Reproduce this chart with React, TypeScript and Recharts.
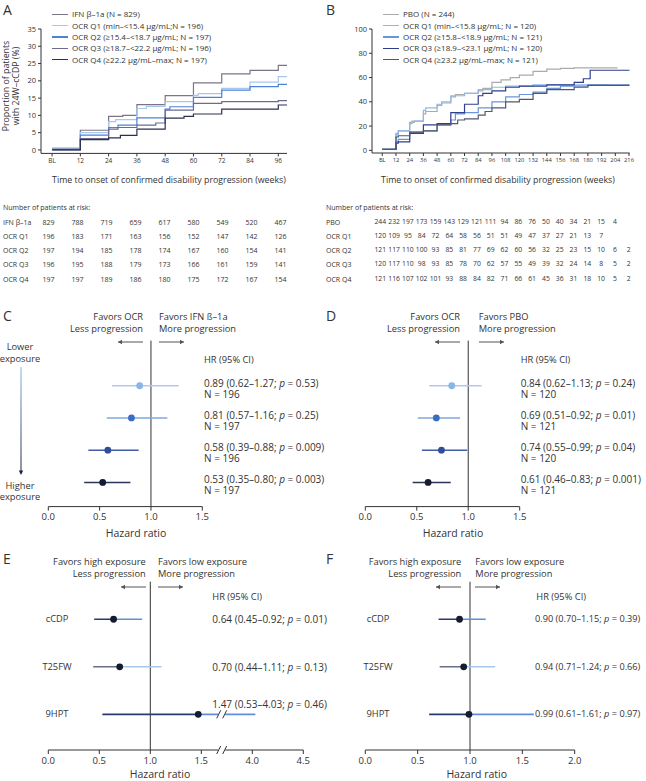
import React from 'react';
import { LineChart, Line, XAxis, YAxis, ComposedChart, Scatter, ReferenceLine, ReferenceDot } from 'recharts';

const FONT = '"Open Sans", sans-serif';
const INK = '#333';

// ---------- Panel A: 24W-cCDP by OCR exposure quartile vs IFN (weeks, %)
const aWeeks = [0, 12, 24, 36, 48, 60, 72, 84, 96];
const aIFN = [[0, 0.3], [12, 5.7], [24, 9.7], [30, 10], [36, 13.1], [48, 15.7], [60, 19.4], [72, 22.0], [84, 23.0], [96, 24.5], [99.7, 24.5]];
const aQ1 = [[0, 0.6], [12, 5.0], [24, 8.2], [27, 8.8], [36, 12.0], [40, 12.6], [48, 14.0], [60, 15.8], [62, 16.3], [72, 17.8], [84, 19.6], [96, 21.2], [99.7, 21.2]];
const aQ2 = [[0, 0.2], [12, 4.3], [24, 6.5], [28, 7.2], [36, 9.3], [48, 11.8], [50, 12.5], [60, 15.2], [72, 17.3], [84, 18.3], [96, 19.0], [99.7, 19.0]];
const aQ3 = [[0, 0], [12, 3.3], [24, 6.0], [28, 6.5], [36, 7.2], [44, 7.8], [48, 11.5], [60, 13.5], [72, 14.0], [96, 14.3], [99.7, 14.3]];
const aQ4 = [[0, 0], [12, 3.0], [24, 3.5], [29, 4.2], [36, 6.0], [48, 9.2], [56, 9.7], [60, 10.4], [72, 11.8], [96, 13.0], [99.7, 13.0]];
const aNames = ['IFN β–1a (N = 829)', 'OCR Q1 (min–<15.4 μg/mL;N = 196)', 'OCR Q2 (≥15.4–<18.7 μg/mL; N = 197)', 'OCR Q3 (≥18.7–<22.2 μg/mL; N = 196)', 'OCR Q4 (≥22.2 μg/mL–max; N = 197)'];
const aColors = ['#7d7387', '#a7c8ee', '#4d82d6', '#6e6a92', '#2a3150'];

// ---------- Panel B: placebo comparison
const bWeeks = [0, 12, 24, 36, 48, 60, 72, 84, 96, 108, 120, 132, 144, 156, 168, 180, 192, 204, 216];
const bPBO = [[0, 0.8], [12, 14], [14, 16], [24, 23], [28, 24], [36, 30], [38, 32], [48, 37], [52, 39], [60, 44], [64, 46], [72, 47], [84, 49], [88, 51], [96, 56], [104, 58], [112, 60], [120, 62], [132, 65], [144, 67], [156, 67.5], [168, 68], [206, 68]];
const bQ1 = [[0, 0.8], [12, 13], [14, 16], [24, 22], [26, 24], [36, 33], [38, 35], [48, 38], [52, 40], [60, 45], [72, 47], [84, 50], [96, 52], [108, 53], [132, 54], [198, 54.5]];
const bQ2 = [[0, 0.8], [12, 7], [14, 9], [24, 15], [36, 16], [48, 21], [60, 25], [64, 30], [72, 31], [84, 35], [96, 40], [108, 44], [120, 46], [132, 48], [144, 51], [156, 53], [180, 54], [216.6, 54]];
const bQ3 = [[0, 0.8], [12, 6], [14, 7], [24, 14], [36, 21], [48, 22], [60, 31], [72, 38], [84, 45], [88, 47], [96, 49], [108, 52], [120, 53], [144, 54], [168, 56], [176, 59], [182, 66], [216.6, 66]];
const bQ4 = [[0, 0.8], [12, 11], [14, 12], [24, 15], [36, 16], [48, 21], [60, 22], [66, 25], [72, 26], [84, 29], [90, 32], [96, 35], [108, 40], [120, 42], [132, 47], [144, 50], [168, 52], [180, 53.5], [216.6, 53.5]];
const bNames = ['PBO (N = 244)', 'OCR Q1 (min–<15.8 μg/mL; N = 120)', 'OCR Q2 (≥15.8–<18.9 μg/mL; N = 121)', 'OCR Q3 (≥18.9–<23.1 μg/mL; N = 120)', 'OCR Q4 (≥23.2 μg/mL–max; N = 121)'];
const bColors = ['#ababab', '#8db8ea', '#6a95d8', '#2f3f8c', '#53576b'];

// ---------- at-risk tables
const aRiskLabels = ['IFN β–1a', 'OCR Q1', 'OCR Q2', 'OCR Q3', 'OCR Q4'];
const aRisk = [
  [829, 788, 719, 659, 617, 580, 549, 520, 467],
  [196, 183, 171, 163, 156, 152, 147, 142, 126],
  [197, 194, 185, 178, 174, 167, 160, 154, 141],
  [196, 195, 188, 179, 173, 166, 161, 159, 141],
  [197, 197, 189, 186, 180, 175, 172, 167, 154],
];
const bRiskLabels = ['PBO', 'OCR Q1', 'OCR Q2', 'OCR Q3', 'OCR Q4'];
const bRisk = [
  [244, 232, 197, 173, 159, 143, 129, 121, 111, 94, 86, 76, 50, 40, 34, 21, 15, 4],
  [120, 109, 95, 84, 72, 64, 58, 56, 51, 51, 49, 47, 37, 27, 21, 13, 7],
  [121, 117, 110, 100, 93, 85, 81, 77, 69, 62, 60, 56, 32, 25, 23, 15, 10, 6, 2],
  [120, 117, 110, 98, 93, 85, 78, 70, 62, 57, 55, 49, 39, 32, 24, 14, 8, 5, 2],
  [121, 116, 107, 102, 101, 93, 88, 84, 82, 71, 66, 61, 45, 36, 31, 18, 10, 5, 2],
];

// ---------- forest plots C / D (quartiles vs comparator)
const cHR = [0.89, 0.81, 0.58, 0.53];
const cLo = [0.62, 0.57, 0.39, 0.35];
const cHi = [1.27, 1.16, 0.88, 0.80];
const cP = ['0.53', '0.25', '0.009', '0.003'];
const cN = [196, 197, 196, 197];
const dHR = [0.84, 0.69, 0.74, 0.61];
const dLo = [0.62, 0.51, 0.55, 0.46];
const dHi = [1.13, 0.92, 0.99, 0.83];
const dP = ['0.24', '0.01', '0.04', '0.001'];
const dN = [120, 121, 120, 121];
const qLine = ['#aecbee', '#80a6e0', '#3f5ea6', '#2b3556'];
const qDot = ['#8db4e6', '#3b6cc4', '#2c4e9b', '#151b30'];

// ---------- forest plots E / F (high vs low exposure)
const endpoints = ['cCDP', 'T25FW', '9HPT'];
const eHR = [0.64, 0.70, 1.47];
const eLo = [0.45, 0.44, 0.53];
const eHi = [0.92, 1.11, 4.03];
const eP = ['0.01', '0.13', '0.46'];
const fHR = [0.90, 0.94, 0.99];
const fLo = [0.70, 0.71, 0.61];
const fHi = [1.15, 1.24, 1.61];
const fP = ['0.39', '0.66', '0.97'];
const epLeft = ['#2a3a6e', '#6b6f85', '#2a3a6e'];
const epRight = ['#5d8fdc', '#a9c8ee', '#5d8fdc'];

const Txt = ({ x, y, size = 9.3, align = 'left', children, style }: any) => {
  const tx = align === 'left' ? '0' : align === 'center' ? '-50%' : '-100%';
  return (
    <div style={{ position: 'absolute', left: x, top: y, transform: `translate(${tx}, -50%)`, fontSize: size, lineHeight: 1, whiteSpace: 'nowrap', ...style }}>
      {children}
    </div>
  );
};

const toPts = (arr: number[][]) => arr.map(([t, p]) => ({ t, p }));

function KMPanel({ left, width, series, colors, xDomain, xTicks, xFont, yDomain, yTicks, yWidth, mRight, mBottom }: any) {
  return (
    <div style={{ position: 'absolute', left, top: 0 }}>
      <LineChart width={width} height={200} margin={{ top: 29, right: mRight, bottom: mBottom, left: 0 }}>
        <XAxis type="number" dataKey="t" domain={xDomain} ticks={xTicks} interval={0} allowDataOverflow
          tickFormatter={(v: number) => (v === 0 ? 'BL' : String(v))} height={16} tickSize={3}
          tick={{ fontSize: xFont, fill: INK, fontFamily: FONT }} axisLine={{ stroke: INK }} tickLine={{ stroke: INK }} />
        <YAxis type="number" domain={yDomain} ticks={yTicks} interval={0} allowDataOverflow width={yWidth} tickSize={3}
          tick={{ fontSize: 7.5, fill: INK, fontFamily: FONT }} axisLine={{ stroke: INK }} tickLine={{ stroke: INK }} />
        {series.map((s: number[][], i: number) => (
          <Line key={i} data={toPts(s)} dataKey="p" type="stepAfter" stroke={colors[i]} strokeWidth={1.2}
            dot={false} isAnimationActive={false} />
        ))}
      </LineChart>
    </div>
  );
}

function KMLegend({ x, names, colors }: any) {
  return (
    <>
      {names.map((n: string, i: number) => (
        <div key={i} style={{ position: 'absolute', left: x, top: 14.3 + i * 11.3, transform: 'translateY(-50%)', display: 'flex', alignItems: 'center', fontSize: 8, lineHeight: 1, whiteSpace: 'nowrap' }}>
          <span style={{ display: 'inline-block', width: 16, height: 1.3, background: colors[i], marginRight: 4 }} />
          {n}
        </div>
      ))}
    </>
  );
}

function RiskTable({ left, labels, rows, x0, dx, size }: any) {
  return (
    <>
      <Txt x={left} y={207} size={7}>Number of patients at risk:</Txt>
      {rows.map((r: number[], i: number) => (
        <React.Fragment key={i}>
          <Txt x={left} y={221.7 + i * 14.2} size={7}>{labels[i]}</Txt>
          {r.map((v, j) => (
            <Txt key={j} x={x0 + j * dx} y={221.7 + i * 14.2} size={size} align="center">{v}</Txt>
          ))}
        </React.Fragment>
      ))}
    </>
  );
}

const BreakMark = (p: any) => (
  <g>
    <rect x={p.cx - 3.5} y={p.cy - 4} width={7} height={8} fill="#fff" />
    <line x1={p.cx - 5} y1={p.cy + 4} x2={p.cx - 1} y2={p.cy - 4} stroke={INK} strokeWidth={1} />
    <line x1={p.cx + 1} y1={p.cy + 4} x2={p.cx + 5} y2={p.cy - 4} stroke={INK} strokeWidth={1} />
  </g>
);

function Forest({ left, top, width, height, margin, xDomain, xTicks, tickLabels, yDomain, rows, breakAt }: any) {
  return (
    <div style={{ position: 'absolute', left, top }}>
      <ComposedChart width={width} height={height} margin={margin}>
        <XAxis type="number" dataKey="x" domain={xDomain} ticks={xTicks} interval={0} allowDataOverflow
          tickFormatter={(v: number, i: number) => tickLabels[i]} height={20} tickSize={4} tickMargin={3}
          tick={{ fontSize: 9.5, fill: INK, fontFamily: FONT }} axisLine={{ stroke: INK }} tickLine={{ stroke: INK }} />
        <YAxis type="number" dataKey="y" domain={yDomain} reversed hide allowDataOverflow />
        <ReferenceLine x={1} stroke={INK} strokeWidth={1} />
        {rows.map((r: any, i: number) => (
          <Line key={'l' + i} data={[{ x: r.lo, y: r.y }, { x: r.hr, y: r.y }]} dataKey="y" stroke={r.left}
            strokeWidth={1.6} dot={false} isAnimationActive={false} />
        ))}
        {rows.map((r: any, i: number) => (
          <Line key={'r' + i} data={[{ x: r.hr, y: r.y }, { x: r.hi, y: r.y }]} dataKey="y" stroke={r.right}
            strokeWidth={1.6} dot={false} isAnimationActive={false} />
        ))}
        {rows.map((r: any, i: number) => (
          <Scatter key={'s' + i} data={[{ x: r.hr, y: r.y }]} isAnimationActive={false}
            shape={(p: any) => <circle cx={p.cx} cy={p.cy} r={3.4} fill={r.dot} />} />
        ))}
        {breakAt !== undefined && rows.filter((r: any) => r.hi > breakAt).map((r: any, i: number) => (
          <ReferenceDot key={'b' + i} x={breakAt} y={r.y} ifOverflow="visible" shape={BreakMark} />
        ))}
        {breakAt !== undefined && (
          <ReferenceDot x={breakAt} y={yDomain[1]} ifOverflow="visible" shape={BreakMark} />
        )}
      </ComposedChart>
    </div>
  );
}

const HRText = ({ x, y, hr, lo, hi, p, size = 10 }: any) => (
  <Txt x={x} y={y} size={size}>
    {hr.toFixed(2)} ({lo.toFixed(2)}–{hi.toFixed(2)}; <i>p</i> = {p})
  </Txt>
);

const Arrow = ({ x1, x2, y }: any) => {
  const l = Math.min(x1, x2) - 4;
  const w = Math.abs(x2 - x1) + 8;
  const dir = x2 > x1 ? 1 : -1;
  return (
    <svg style={{ position: 'absolute', left: l, top: y - 4 }} width={w} height={8}>
      <line x1={x1 - l} y1={4} x2={x2 - l} y2={4} stroke="#555" strokeWidth={1} />
      <path d={`M${x2 - l},4 l${-dir * 4},-2.2 l0,4.4 z`} fill="#555" />
    </svg>
  );
};

function ForestHeader({ gapL, gapR, y, leftLines, rightLines }: any) {
  return (
    <>
      <Txt x={gapL} y={y} align="right">{leftLines[0]}</Txt>
      <Txt x={gapL} y={y + 12} align="right">{leftLines[1]}</Txt>
      <Txt x={gapR} y={y} align="left">{rightLines[0]}</Txt>
      <Txt x={gapR} y={y + 12} align="left">{rightLines[1]}</Txt>
      <Arrow x1={gapL} x2={gapL - 25} y={y + 25} />
      <Arrow x1={gapR} x2={gapR + 25} y={y + 25} />
    </>
  );
}

export default function App() {
  const cRows = cHR.map((hr, i) => ({ y: i + 1, hr, lo: cLo[i], hi: cHi[i], left: qLine[i], right: qLine[i], dot: qDot[i] }));
  const dRows = dHR.map((hr, i) => ({ y: i + 1, hr, lo: dLo[i], hi: dHi[i], left: qLine[i], right: qLine[i], dot: qDot[i] }));
  const brk = (v: number) => (v > 1.7 ? v - 2 : v);
  const eRows = eHR.map((hr, i) => ({ y: i + 1, hr: brk(hr), lo: brk(eLo[i]), hi: brk(eHi[i]), left: epLeft[i], right: epRight[i], dot: '#151b30' }));
  const fRows = fHR.map((hr, i) => ({ y: i + 1, hr, lo: fLo[i], hi: fHi[i], left: epLeft[i], right: epRight[i], dot: '#151b30' }));
  const rowY = [385.7, 417.9, 450.1, 482.3];
  const epY = [619.3, 666.8, 714.3];

  return (
    <div style={{ position: 'absolute', left: 0, top: 0, width: 646, height: 781, background: '#fff', fontFamily: FONT, color: INK, overflow: 'hidden' }}>
      {/* A */}
      <Txt x={3} y={9.5} size={14}>A</Txt>
      <KMPanel left={0} width={300} series={[aIFN, aQ1, aQ2, aQ3, aQ4]} colors={aColors}
        xDomain={[-4.7, 99.7]} xTicks={aWeeks} xFont={6.5} yDomain={[-1, 35]} yTicks={[0, 5, 10, 15, 20, 25, 30, 35]}
        yWidth={41} mRight={13} mBottom={30.6} />
      <KMLegend x={52} names={aNames} colors={aColors} />
      <div style={{ position: 'absolute', left: 11.5, top: 86, transform: 'translate(-50%, -50%) rotate(-90deg)', fontSize: 8.8, lineHeight: 1.1, textAlign: 'center', whiteSpace: 'nowrap' }}>
        Proportion of patients<br />with 24W–cCDP (%)
      </div>
      <Txt x={169} y={180} size={8.8} align="center">Time to onset of confirmed disability progression (weeks)</Txt>

      {/* B */}
      <Txt x={326} y={9.5} size={14}>B</Txt>
      <KMPanel left={323} width={323} series={[bPBO, bQ1, bQ2, bQ3, bQ4]} colors={bColors}
        xDomain={[-9, 216.6]} xTicks={bWeeks} xFont={5.8} yDomain={[-2.2, 100]} yTicks={[0, 20, 40, 60, 80, 100]}
        yWidth={49} mRight={16.3} mBottom={31} />
      <KMLegend x={383} names={bNames} colors={bColors} />
      <Txt x={498} y={180} size={8.8} align="center">Time to onset of confirmed disability progression (weeks)</Txt>

      {/* at-risk tables */}
      <RiskTable left={3} labels={aRiskLabels} rows={aRisk} x0={48.5} dx={29} size={7} />
      <RiskTable left={326} labels={bRiskLabels} rows={bRisk} x0={380.3} dx={13.8} size={6.8} />

      {/* C */}
      <Txt x={3} y={316} size={14}>C</Txt>
      <ForestHeader gapL={143} gapR={159} y={317} leftLines={['Favors OCR', 'Less progression']} rightLines={['Favors IFN ß–1a', 'More progression']} />
      <Forest left={0} top={330} width={323} height={220} margin={{ top: 10.6, right: 120.7, bottom: 23.4, left: 48.3 }}
        xDomain={[0, 1.5]} xTicks={[0, 0.5, 1, 1.5]} tickLabels={['0.0', '0.5', '1.0', '1.5']} yDomain={[-0.4, 4.75]} rows={cRows} />
      <Txt x={20} y={347.3} align="center">Lower</Txt>
      <Txt x={20} y={359} align="center">exposure</Txt>
      <svg style={{ position: 'absolute', left: 15, top: 365 }} width={12} height={112}>
        <defs>
          <linearGradient id="expGrad" x1="0" y1="0" x2="0" y2="1">
            <stop offset="0%" stopColor="#8db4e6" />
            <stop offset="100%" stopColor="#1c2540" />
          </linearGradient>
        </defs>
        <rect x={5.5} y={2} width={1} height={104} fill="url(#expGrad)" />
        <path d="M6,110 l-2.2,-4.5 l4.4,0 z" fill="#1c2540" />
      </svg>
      <Txt x={20} y={485.7} align="center">Higher</Txt>
      <Txt x={20} y={496.7} align="center">exposure</Txt>
      <Txt x={204} y={360}>HR (95% CI)</Txt>
      {cHR.map((hr, i) => (
        <React.Fragment key={i}>
          <HRText x={204} y={rowY[i] - 3} hr={hr} lo={cLo[i]} hi={cHi[i]} p={cP[i]} />
          <Txt x={204} y={rowY[i] + 8} size={10}>N = {cN[i]}</Txt>
        </React.Fragment>
      ))}
      <Txt x={136} y={533} size={10.5} align="center">Hazard ratio</Txt>

      {/* D */}
      <Txt x={326} y={316} size={14}>D</Txt>
      <ForestHeader gapL={460} gapR={478.7} y={317} leftLines={['Favors OCR', 'Less progression']} rightLines={['Favors PBO', 'More progression']} />
      <Forest left={323} top={330} width={323} height={220} margin={{ top: 10.6, right: 126.3, bottom: 23.4, left: 42.3 }}
        xDomain={[0, 1.5]} xTicks={[0, 0.5, 1, 1.5]} tickLabels={['0.0', '0.5', '1.0', '1.5']} yDomain={[-0.4, 4.75]} rows={dRows} />
      <Txt x={520.7} y={360}>HR (95% CI)</Txt>
      {dHR.map((hr, i) => (
        <React.Fragment key={i}>
          <HRText x={520.7} y={rowY[i] - 3} hr={hr} lo={dLo[i]} hi={dHi[i]} p={dP[i]} />
          <Txt x={520.7} y={rowY[i] + 8} size={10}>N = {dN[i]}</Txt>
        </React.Fragment>
      ))}
      <Txt x={453} y={533} size={10.5} align="center">Hazard ratio</Txt>

      {/* E */}
      <Txt x={3} y={558.5} size={14}>E</Txt>
      <ForestHeader gapL={145.7} gapR={158} y={562} leftLines={['Favors high exposure', 'Less progression']} rightLines={['Favors low exposure', 'More progression']} />
      <Forest left={0} top={570} width={323} height={211} margin={{ top: 11.7, right: 19.7, bottom: 11, left: 48.3 }}
        xDomain={[0, 2.5]} xTicks={[0, 0.5, 1, 1.5, 2, 2.5]} tickLabels={['0.0', '0.5', '1.0', '1.5', '4.0', '4.5']}
        yDomain={[0.21, 3.75]} rows={eRows} breakAt={1.7} />
      {endpoints.map((e, i) => (
        <Txt key={i} x={57} y={epY[i]} align="center">{e}</Txt>
      ))}
      <Txt x={212.3} y={596.7}>HR (95% CI)</Txt>
      {eHR.map((hr, i) => (
        <HRText key={i} x={212.3} y={i === 2 ? 704 : epY[i]} hr={hr} lo={eLo[i]} hi={eHi[i]} p={eP[i]} />
      ))}
      <Txt x={160} y={774} size={10.5} align="center">Hazard ratio</Txt>

      {/* F */}
      <Txt x={326} y={558.5} size={14} style={{ background: '#fff', paddingRight: 2 }}>F</Txt>
      <ForestHeader gapL={461.3} gapR={475.3} y={562} leftLines={['Favors high exposure', 'Less progression']} rightLines={['Favors low exposure', 'More progression']} />
      <Forest left={323} top={570} width={323} height={211} margin={{ top: 11.7, right: 71.3, bottom: 11, left: 42.3 }}
        xDomain={[0, 2]} xTicks={[0, 0.5, 1, 1.5, 2]} tickLabels={['0.0', '0.5', '1.0', '1.5', '2.0']}
        yDomain={[0.21, 3.75]} rows={fRows} />
      {endpoints.map((e, i) => (
        <Txt key={i} x={378} y={epY[i]} align="center">{e}</Txt>
      ))}
      <Txt x={536.3} y={596.7}>HR (95% CI)</Txt>
      {fHR.map((hr, i) => (
        <HRText key={i} x={535} y={epY[i]} hr={hr} lo={fLo[i]} hi={fHi[i]} p={fP[i]} size={9.2} />
      ))}
      <Txt x={476.7} y={774} size={10.5} align="center">Hazard ratio</Txt>
    </div>
  );
}
